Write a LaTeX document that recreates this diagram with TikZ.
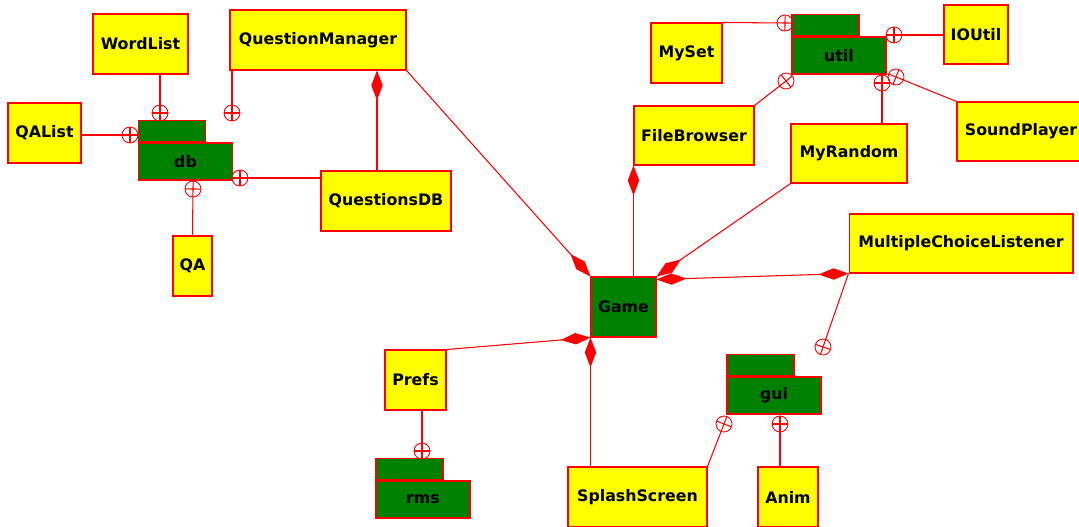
\documentclass[tikz,border=0pt]{standalone}
\usepackage{fontspec}
\setmainfont{DejaVu Sans}
\usepackage{tikz}
\usetikzlibrary{positioning,calc,arrows.meta}

\definecolor{umlyellow}{RGB}{255,255,0}
\definecolor{umlgreen}{RGB}{0,128,0}
\definecolor{umlred}{RGB}{255,0,0}

% nesting marker: line through the circle plus a cross bar
\newcommand{\nestline}[2]{%
    \draw[conn] ($(#1)!-0.16cm!(#2)$) -- (#2);
    \draw[conn] ($(#1)!0.16cm!90:(#2)$) -- ($(#1)!0.16cm!-90:(#2)$);
}

\begin{document}
\begin{tikzpicture}[x=0.02cm,y=-0.02cm,
    cls/.style={draw=umlred,fill=umlyellow,line width=0.6pt,inner sep=0pt,minimum height=1.2cm,font=\fontsize{9}{11}\selectfont\bfseries},
    pkg/.style={draw=umlred,fill=umlgreen,line width=0.6pt,inner sep=0pt,minimum width=1.88cm,minimum height=0.74cm,font=\fontsize{9}{11}\selectfont\bfseries},
    pkgtab/.style={draw=umlred,fill=umlgreen,line width=0.6pt,inner sep=0pt,minimum width=1.34cm,minimum height=0.42cm,anchor=south west},
    nest/.style={circle,draw=umlred,line width=0.5pt,minimum size=0.32cm,inner sep=0pt},
    conn/.style={umlred,line width=0.6pt},
    comp/.style={conn,-{Diamond[length=17pt,width=6.5pt]}}]
    \useasboundingbox (0,0) rectangle (1079,527);

    % db package
    \node[cls,minimum width=1.9cm] (WordList) at (140.5,44) {WordList};
    \node[cls,minimum width=3.52cm] (QuestionManager) at (318,40) {QuestionManager};
    \node[cls,minimum width=1.46cm] (QAList) at (44.5,133) {QAList};
    \node[cls,minimum width=2.6cm] (QuestionsDB) at (386,201) {QuestionsDB};
    \node[cls,minimum width=0.78cm] (QA) at (192.5,266) {QA};
    \node[pkg] (db) at (185.5,161.5) {db};
    \node[pkgtab] (dbtab) at (db.north west) {};

    % util package
    \node[cls,minimum width=1.42cm] (MySet) at (686.5,53) {MySet};
    \node[cls,minimum width=1.28cm,minimum height=1.18cm] (IOUtil) at (976,34.5) {IOUtil};
    \node[cls,minimum width=2.4cm,minimum height=1.18cm] (FileBrowser) at (694,135.5) {FileBrowser};
    \node[cls,minimum width=2.32cm,minimum height=1.18cm] (MyRandom) at (849,153.5) {MyRandom};
    \node[cls,minimum width=2.56cm,minimum height=1.18cm] (SoundPlayer) at (1021,131.5) {SoundPlayer};
    \node[pkg] (util) at (839,55.5) {util};
    \node[pkgtab] (utiltab) at (util.north west) {};

    % game and gui
    \node[cls,fill=umlgreen,minimum width=1.3cm] (Game) at (623.5,307) {Game};
    \node[cls,minimum width=4.48cm,minimum height=1.18cm] (MCL) at (961,243.5) {MultipleChoiceListener};
    \node[cls,minimum width=2.78cm] (SplashScreen) at (637.5,497) {SplashScreen};
    \node[cls,minimum width=1.2cm] (Anim) at (788,497) {Anim};
    \node[cls,minimum width=1.22cm] (Prefs) at (415.5,380) {Prefs};
    \node[pkg] (gui) at (774,395.5) {gui};
    \node[pkgtab] (guitab) at (gui.north west) {};
    \node[pkg] (rms) at (423,499.5) {rms};
    \node[pkgtab] (rmstab) at (rms.north west) {};

    % nesting markers
    \node[nest] (nWL) at (160,113) {};
    \node[nest] (nQM) at (232,113) {};
    \node[nest] (nQAL) at (130,135) {};
    \node[nest] (nQA) at (193,189) {};
    \node[nest] (nQDB) at (240,178) {};
    \node[nest] (nMS) at (785,23) {};
    \node[nest] (nIO) at (894,35) {};
    \node[nest] (nFB) at (786,81) {};
    \node[nest] (nMR) at (882,83) {};
    \node[nest] (nSP) at (896,77) {};
    \node[nest] (nMCL) at (823,347) {};
    \node[nest] (nSS) at (724,424) {};
    \node[nest] (nAn) at (780,424) {};
    \node[nest] (nPr) at (422,451) {};

    \nestline{nWL}{nWL |- WordList.south}
    \nestline{nQM}{nQM |- QuestionManager.south}
    \nestline{nQAL}{nQAL -| QAList.east}
    \nestline{nQA}{QA.north}
    \nestline{nQDB}{nQDB -| QuestionsDB.west}
    \nestline{nMS}{MySet.north east}
    \nestline{nIO}{nIO -| IOUtil.west}
    \nestline{nFB}{FileBrowser.north east}
    \nestline{nMR}{nMR |- MyRandom.north}
    \nestline{nSP}{SoundPlayer.north west}
    \nestline{nMCL}{MCL.south west}
    \nestline{nSS}{SplashScreen.north east}
    \nestline{nAn}{nAn |- Anim.north}
    \nestline{nPr}{nPr |- Prefs.south}

    % compositions
    \draw[comp] ([xshift=-0.18cm]QuestionsDB.north) -- ([xshift=-0.18cm]QuestionsDB.north |- QuestionManager.south);
    \draw[comp] (QuestionManager.south east) -- (Game.north west);
    \draw[comp] (FileBrowser.south west |- Game.north) -- (FileBrowser.south west);
    \draw[comp] (MyRandom.south west) -- (Game.north east);
    \draw[conn,{Diamond[length=17pt,width=6.5pt]}-{Diamond[length=17pt,width=6.5pt]}] (MCL.south west) -- ([yshift=-0.06cm]Game.north east);
    \draw[comp] (Prefs.north east) -- (Game.south west);
    \draw[comp] (Game.south west |- SplashScreen.north) -- (Game.south west);
\end{tikzpicture}
\end{document}
